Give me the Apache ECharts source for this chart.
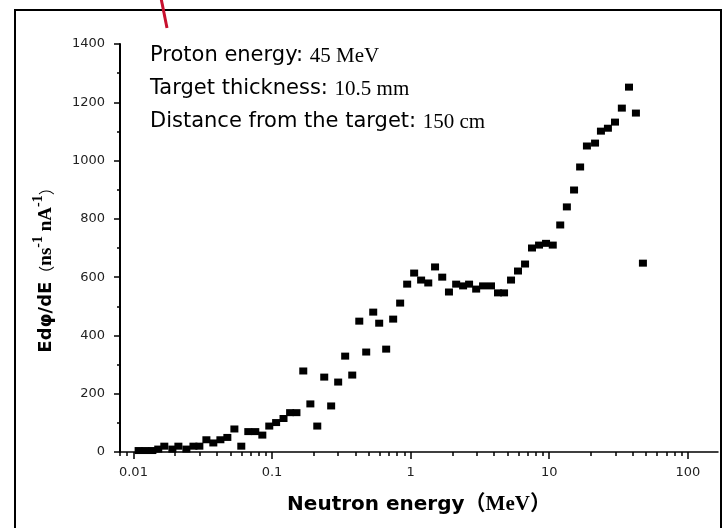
<!DOCTYPE html>
<html>
<head>
    <meta charset="utf-8">
    <script src="https://cdn.jsdelivr.net/npm/echarts@6/dist/echarts.min.js"></script>
</head>
<body style="margin: 0">
    <div id="container" style="width: 724px; height: 528px"></div>
    <script type="text/javascript">
        // neutron energy (MeV) and E dphi/dE
        var energyMeV = [
            0.0109, 0.0122, 0.0137, 0.0151, 0.0167, 0.0191, 0.0211, 0.0241, 0.0271, 0.0299,
            0.0336, 0.0377, 0.0424, 0.0476, 0.0535, 0.0600, 0.0674, 0.0757, 0.0851, 0.0955,
            0.107, 0.121, 0.135, 0.150, 0.168, 0.189, 0.212, 0.238, 0.267, 0.300,
            0.337, 0.379, 0.426, 0.478, 0.537, 0.593, 0.666, 0.748, 0.840, 0.944,
            1.06, 1.19, 1.34, 1.50, 1.69, 1.89, 2.13, 2.39, 2.64, 2.97,
            3.33, 3.80, 4.27, 4.72, 5.30, 5.95, 6.69, 7.51, 8.44, 9.48,
            10.6, 12.0, 13.4, 15.1, 16.7, 18.7, 21.4, 23.6, 26.5, 29.8,
            33.4, 37.6, 42.2, 47.4
        ];
        var fluxValues = [
            5, 5, 5, 10, 20, 10, 20, 10, 20, 20,
            42, 31, 42, 50, 79, 20, 70, 70, 58, 89,
            101, 115, 135, 135, 278, 165, 89, 257, 158, 240,
            329, 264, 449, 343, 480, 442, 353, 456, 511, 576,
            614, 590, 580, 635, 600, 549, 576, 570, 576, 559,
            570, 570, 546, 546, 590, 621, 645, 700, 710, 716,
            710, 779, 841, 899, 978, 1050, 1060, 1101, 1111, 1132,
            1180, 1252, 1163, 648
        ];
        var majorTicks = [0.01, 0.1, 1, 10, 100];
        var majorLabels = ['0.01', '0.1', '1', '10', '100'];
        var decades = [0.001, 0.01, 0.1, 1, 10];
        var multipliers = [2, 3, 4, 5, 6, 7, 8, 9];
        var xMin = 0.008, xMax = 165;

        var minorTicks = [];
        decades.forEach(function (d) {
            multipliers.forEach(function (m) {
                var v = +(m * d).toPrecision(3);
                if (v >= xMin && v <= xMax) minorTicks.push(v);
            });
        });

        var points = energyMeV.map(function (e, i) {
            return [e, fluxValues[i]];
        });

        var tickFont = 'DejaVu Sans';
        var myChart = echarts.init(document.getElementById('container'));

        var option = {
            backgroundColor: '#fff',
            animation: false,
            grid: {
                left: 120,
                right: 6,
                top: 44,
                bottom: 76,
                outerBoundsMode: 'none'
            },
            xAxis: [{
                type: 'log',
                logBase: 10,
                min: xMin,
                max: xMax,
                position: 'bottom',
                axisLine: { show: true, onZero: false, lineStyle: { color: '#000', width: 1.5 } },
                axisTick: { show: true, customValues: majorTicks, length: 7, lineStyle: { color: '#000', width: 1.5 } },
                axisLabel: {
                    customValues: majorTicks,
                    margin: 14,
                    fontFamily: tickFont,
                    fontSize: 13,
                    color: '#222',
                    formatter: function (v) {
                        var i = majorTicks.indexOf(+v);
                        return i >= 0 ? majorLabels[i] : '';
                    }
                },
                splitLine: { show: false },
                name: '{a|Neutron energy}{b|（MeV）}',
                nameLocation: 'middle',
                nameGap: 42,
                nameTextStyle: {
                    rich: {
                        a: { fontFamily: 'DejaVu Sans', fontWeight: 'bold', fontSize: 20, color: '#000' },
                        b: { fontFamily: 'Liberation Serif, Noto Sans CJK SC', fontWeight: 'bold', fontSize: 21, color: '#000' }
                    }
                }
            }, {
                type: 'log',
                logBase: 10,
                min: xMin,
                max: xMax,
                position: 'bottom',
                axisLine: { show: false },
                axisTick: { show: true, customValues: minorTicks, length: 4, lineStyle: { color: '#000', width: 1.5 } },
                axisLabel: { show: false },
                splitLine: { show: false }
            }],
            yAxis: {
                type: 'value',
                min: 0,
                max: 1400,
                interval: 200,
                axisLine: { show: true, lineStyle: { color: '#000', width: 2 } },
                axisTick: { show: true, length: 6, lineStyle: { color: '#000', width: 1.5 } },
                minorTick: { show: true, splitNumber: 2, length: 3, lineStyle: { color: '#000', width: 1.5 } },
                axisLabel: {
                    margin: 15,
                    fontFamily: tickFont,
                    fontSize: 13,
                    color: '#222',
                    formatter: function (v) { return String(v); }
                },
                splitLine: { show: false },
                minorSplitLine: { show: false }
            },
            graphic: [
                {
                    type: 'rect',
                    shape: { x: 15, y: 10, width: 706, height: 530 },
                    style: { fill: 'none', stroke: '#000', lineWidth: 2 }
                },
                {
                    type: 'line',
                    shape: { x1: 161, y1: -2, x2: 167, y2: 28 },
                    style: { stroke: '#c8102e', lineWidth: 3 }
                },
                {
                    type: 'text',
                    x: 150,
                    y: 56,
                    style: {
                        text: '{s|Proton energy: }{t|45 MeV}',
                        verticalAlign: 'middle',
                        rich: {
                            s: { fontFamily: 'DejaVu Sans', fontSize: 21, fill: '#000' },
                            t: { fontFamily: 'Liberation Serif', fontSize: 21, fill: '#000' }
                        }
                    }
                },
                {
                    type: 'text',
                    x: 150,
                    y: 89,
                    style: {
                        text: '{s|Target thickness: }{t|10.5 mm}',
                        verticalAlign: 'middle',
                        rich: {
                            s: { fontFamily: 'DejaVu Sans', fontSize: 21, fill: '#000' },
                            t: { fontFamily: 'Liberation Serif', fontSize: 21, fill: '#000' }
                        }
                    }
                },
                {
                    type: 'text',
                    x: 150,
                    y: 122,
                    style: {
                        text: '{s|Distance from the target: }{t|150 cm}',
                        verticalAlign: 'middle',
                        rich: {
                            s: { fontFamily: 'DejaVu Sans', fontSize: 21, fill: '#000' },
                            t: { fontFamily: 'Liberation Serif', fontSize: 21, fill: '#000' }
                        }
                    }
                },
                {
                    type: 'text',
                    x: 46,
                    y: 266,
                    rotation: Math.PI / 2,
                    style: {
                        text: '{m|Edφ/dE}{p|（}{u|ns}{sup|-1}{u| nA}{sup|-1}{p|）}',
                        align: 'center',
                        verticalAlign: 'middle',
                        rich: {
                            m: { fontFamily: 'DejaVu Sans', fontWeight: 'bold', fontSize: 18, lineHeight: 30, fill: '#000' },
                            p: { fontFamily: 'Noto Sans CJK SC', fontSize: 16, lineHeight: 30, fill: '#000' },
                            u: { fontFamily: 'Liberation Serif', fontWeight: 'bold', fontSize: 19, lineHeight: 30, fill: '#000' },
                            sup: { fontFamily: 'Liberation Serif', fontWeight: 'bold', fontSize: 14, verticalAlign: 'top', fill: '#000' }
                        }
                    }
                }
            ],
            series: [{
                type: 'scatter',
                xAxisIndex: 0,
                data: points,
                symbol: 'rect',
                symbolSize: [8, 7],
                itemStyle: { color: '#000', opacity: 1 }
            }]
        };

        myChart.setOption(option, true);
    </script>
</body>
</html>
